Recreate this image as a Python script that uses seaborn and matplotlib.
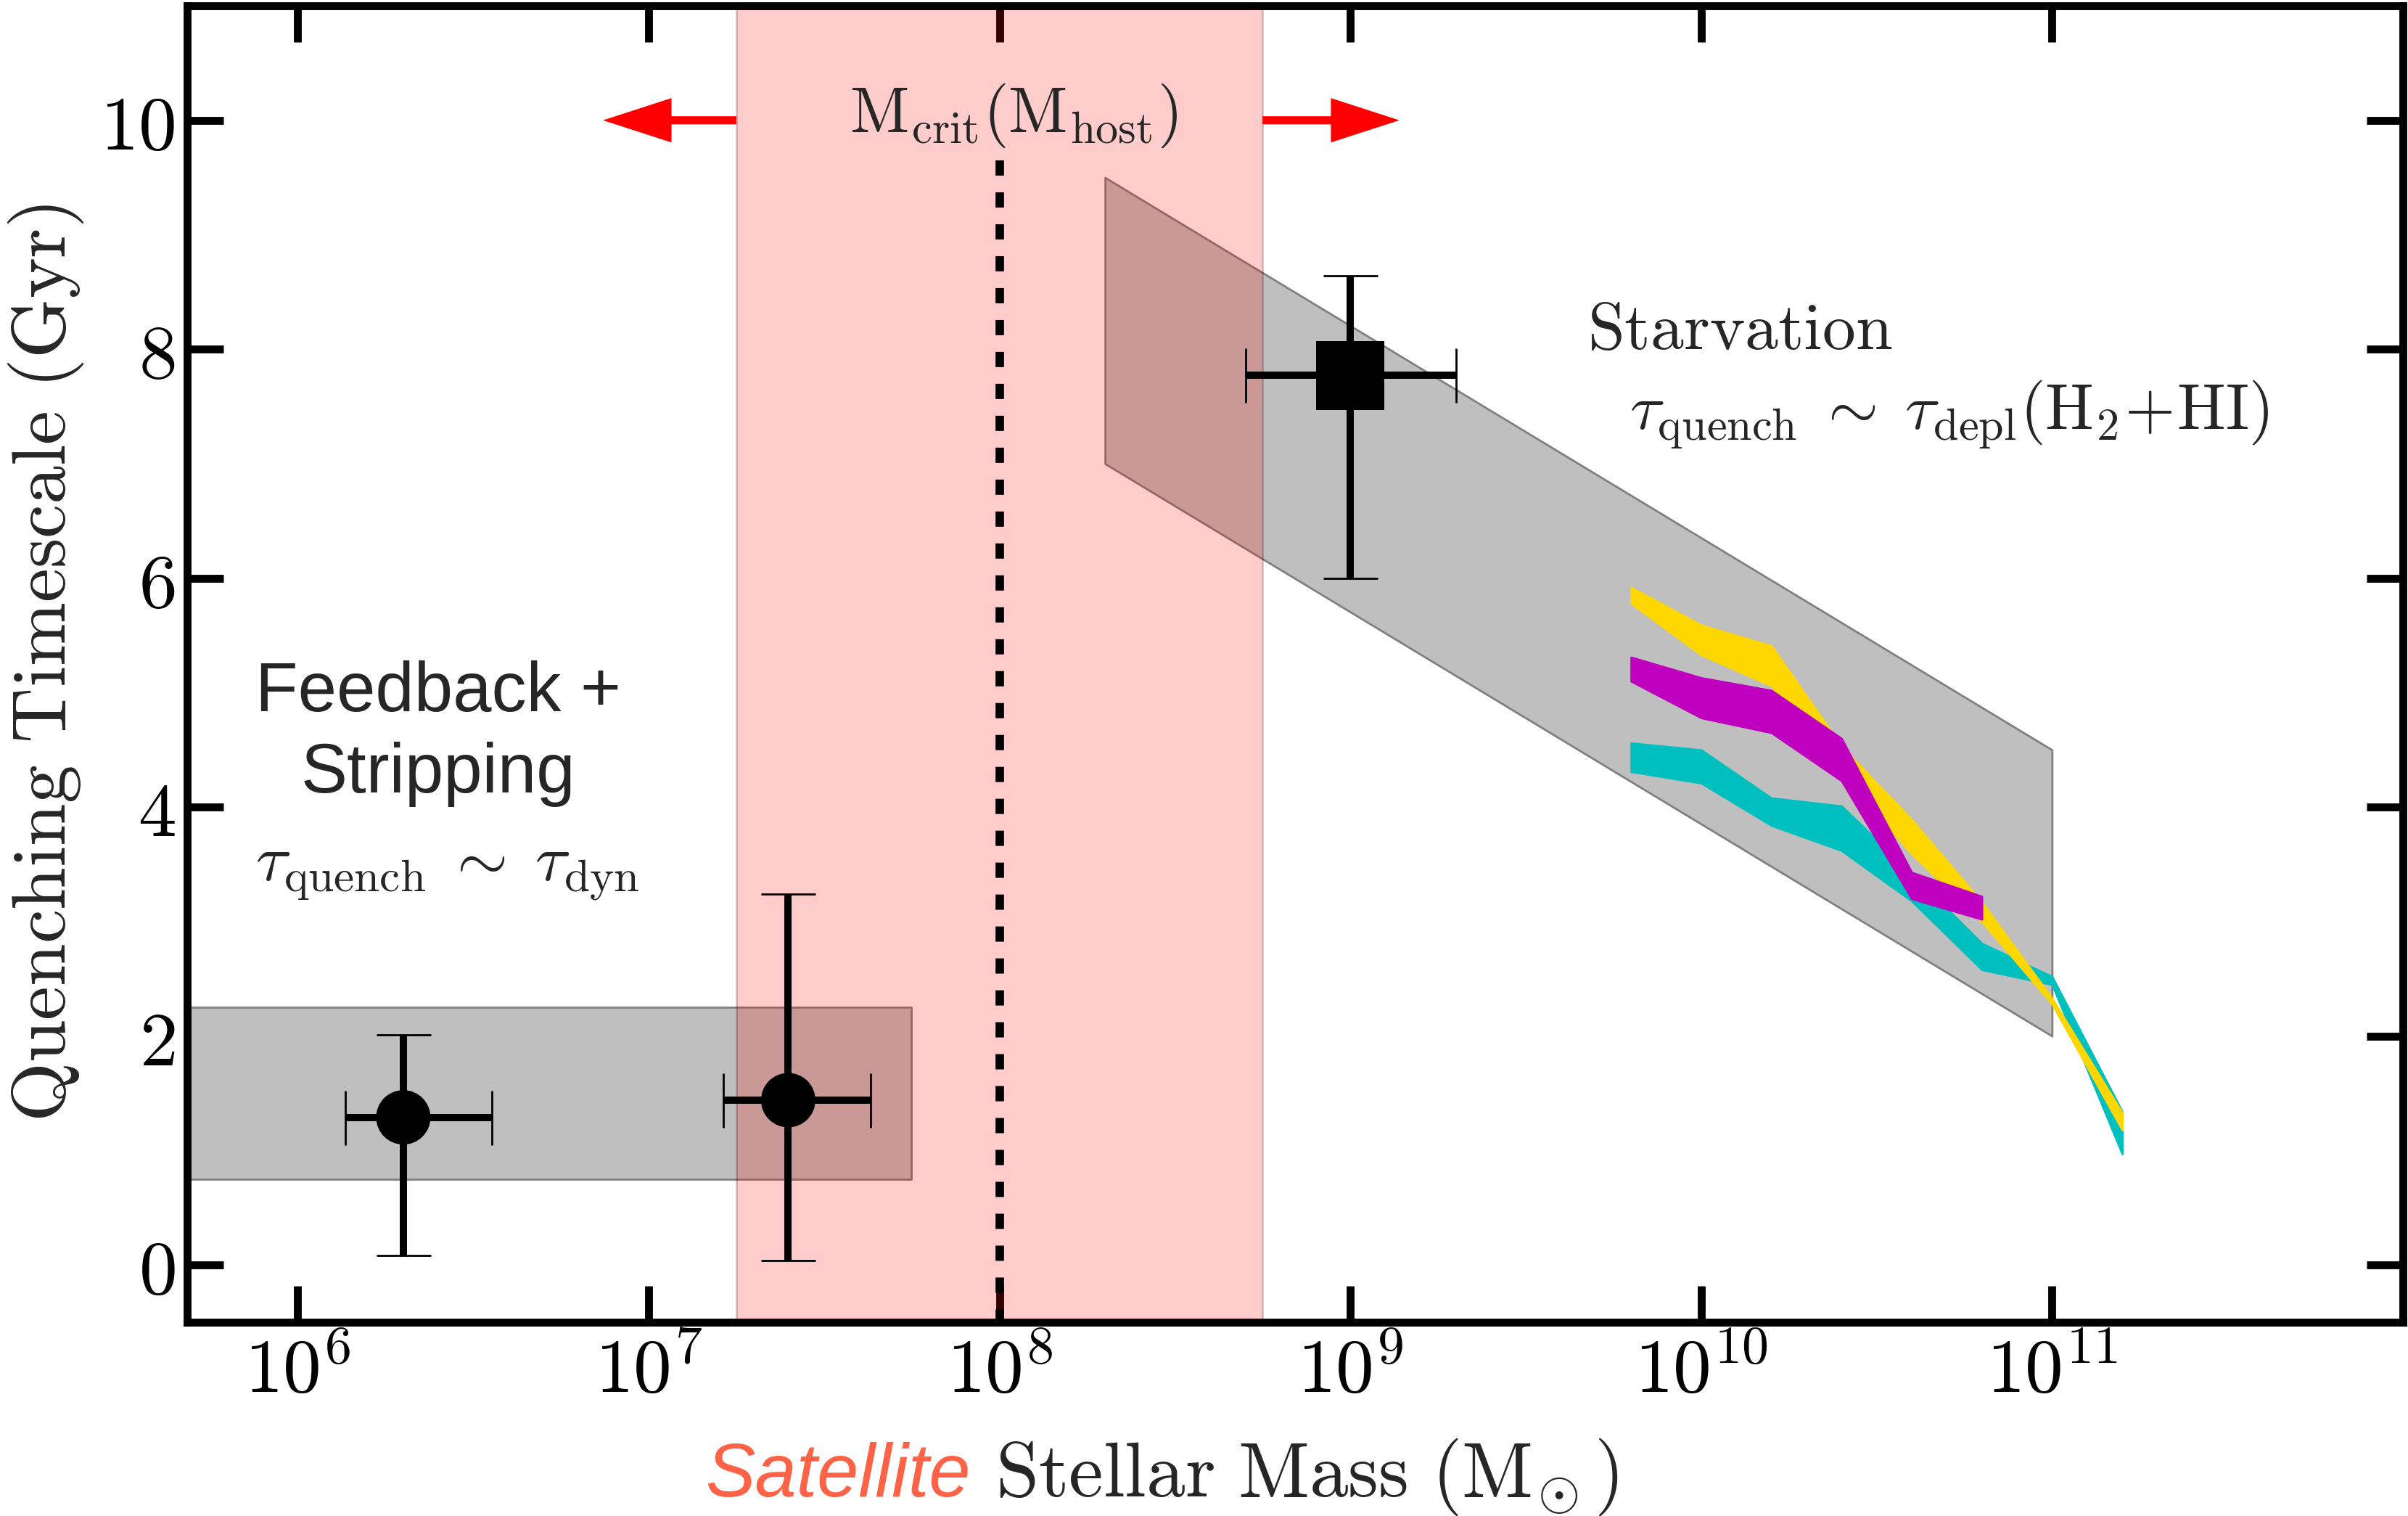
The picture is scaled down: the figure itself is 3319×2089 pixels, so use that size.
import numpy as np
import pandas as pd
import matplotlib
matplotlib.use("Agg")
import matplotlib.pyplot as plt
import seaborn as sns
from matplotlib.ticker import FixedLocator, FixedFormatter, NullLocator

# ---------------- data ----------------
# quenching-timescale bands (log10 stellar mass, lower / upper edge in Gyr)
band_logmass = [9.8, 10.0, 10.2, 10.4, 10.6, 10.8, 11.0, 11.2]
gold_lo = [5.78, 5.33, 5.06, 4.30, 3.59, 3.00, 2.28, 1.18]
gold_hi = [5.92, 5.59, 5.41, 4.53, 3.89, 3.17, 2.33, 1.33]
cyan_lo = [4.31, 4.21, 3.84, 3.62, 3.18, 2.58, 2.45, 0.97]
cyan_hi = [4.56, 4.50, 4.08, 4.01, 3.42, 2.81, 2.52, 1.34]
magenta_logmass = [9.8, 10.0, 10.2, 10.4, 10.6, 10.8]
magenta_lo = [5.10, 4.78, 4.65, 4.23, 3.20, 3.02]
magenta_hi = [5.31, 5.13, 5.02, 4.60, 3.43, 3.22]

# shaded regimes
feedback_x = [1e5, 5.6e7]
feedback_lo = [0.75, 0.75]
feedback_hi = [2.25, 2.25]
starv_x = [2e8, 1e11]
starv_lo = [7.0, 2.0]
starv_hi = [9.5, 4.5]

# critical-mass band and line
mcrit_lo, mcrit_hi = 10**7.25, 10**8.75
mcrit = 1e8
mcrit_line_y = [9.65, -0.5]
arrow_y = 10.0
arrow_left_tip = 10**6.87
arrow_right_tip = 10**9.14

# data points with error bars
point_kind = ["circle", "circle", "square"]
point_mass = [2.0e6, 2.5e7, 1.0e9]
point_tq = [1.29, 1.44, 7.77]
point_mass_lo = [1.365e6, 1.63e7, 5.04e8]
point_mass_hi = [3.58e6, 4.30e7, 2.0e9]
point_tq_lo = [0.085, 0.04, 6.0]
point_tq_hi = [2.01, 3.24, 8.64]

# ticks
xtick_vals = [1e6, 1e7, 1e8, 1e9, 1e10, 1e11]
xtick_labels = [r"$10^{6}$", r"$10^{7}$", r"$10^{8}$", r"$10^{9}$", r"$10^{10}$", r"$10^{11}$"]
ytick_vals = [0, 2, 4, 6, 8, 10]
ytick_labels = [r"$0$", r"$2$", r"$4$", r"$6$", r"$8$", r"$10$"]

# ---------------- style ----------------
sns.set_style("ticks")
plt.rcParams["mathtext.fontset"] = "cm"
plt.rcParams["font.family"] = ["DejaVu Sans"]

W, H, DPI = 3319, 2089, 200
fig = plt.figure(figsize=(W / DPI, H / DPI), dpi=DPI)
ax = fig.add_axes([258 / W, 1 - 1822 / H, (3312 - 258) / W, (1822 - 8) / H])
ax.set_xscale("log")
ax.set_xlim(10**5.685, 1e12)
ax.set_ylim(-0.5, 11)

# gray regime boxes
ax.fill_between(feedback_x, feedback_lo, feedback_hi, facecolor="0.75",
                edgecolor="0.5", lw=1.0, zorder=1)
ax.fill_between(starv_x, starv_lo, starv_hi, facecolor="0.75",
                edgecolor="0.5", lw=1.0, zorder=1)

# pink critical mass band
ax.axvspan(mcrit_lo, mcrit_hi, facecolor="red", edgecolor="black",
           alpha=0.2, lw=1.0, zorder=2)

# coloured bands
bx = 10**np.array(band_logmass)
mx = 10**np.array(magenta_logmass)
ax.fill_between(bx, cyan_lo, cyan_hi, facecolor="c", edgecolor="c", lw=1, zorder=3)
ax.fill_between(bx, gold_lo, gold_hi, facecolor="gold", edgecolor="gold", lw=1, zorder=4)
ax.fill_between(mx, magenta_lo, magenta_hi, facecolor="m", edgecolor="m", lw=1, zorder=5)

# dashed critical line
ax.plot([mcrit, mcrit], mcrit_line_y, color="k", lw=4.2, dashes=(1.8, 1.97), zorder=3)

# arrows
arrow_style = "simple,head_length=3.4,head_width=2.2,tail_width=0.4"
for tail, tip in [(mcrit_lo, arrow_left_tip), (mcrit_hi, arrow_right_tip)]:
    ax.annotate("", xy=(tip, arrow_y), xytext=(tail, arrow_y),
                arrowprops=dict(arrowstyle=arrow_style, mutation_scale=10,
                                fc="red", ec="none", shrinkA=0, shrinkB=0),
                zorder=6)

# error bars + markers
pm = np.array(point_mass)
pt = np.array(point_tq)
xerr = [pm - np.array(point_mass_lo), np.array(point_mass_hi) - pm]
yerr = [pt - np.array(point_tq_lo), np.array(point_tq_hi) - pt]
ax.errorbar(pm, pt, xerr=xerr, yerr=yerr, fmt="none", ecolor="k",
            elinewidth=3.6, capsize=13.5, capthick=1.0, zorder=6)
pts = pd.DataFrame({"mass": point_mass, "tq": point_tq, "kind": point_kind})
sns.scatterplot(data=pts, x="mass", y="tq", style="kind", size="kind",
                markers={"circle": "o", "square": "s"},
                sizes={"circle": 27**2, "square": 34**2},
                color="k", edgecolor="k", linewidth=0, legend=False,
                ax=ax, zorder=7)
ax.set_xlabel("")
ax.set_ylabel("")

# annotations
ax.text(10**8.04, 9.9, r"$\mathrm{M}_{\rm crit}(\mathrm{M}_{\rm host})$",
        fontsize=32, ha="center", va="baseline", zorder=8)
ax.text(10**10.11, 8.0, r"$\mathrm{Starvation}$", fontsize=33,
        ha="center", va="baseline", zorder=8)
ax.text(10**10.706, 7.3,
        r"$\tau_{\rm quench}\;\sim\;\tau_{\rm depl}(\mathrm{H}_2\!+\!\mathrm{HI})$",
        fontsize=32, ha="center", va="baseline", zorder=8)
ax.text(10**6.4, 4.84, "Feedback +", fontsize=34.5, family="Liberation Sans",
        ha="center", va="baseline", zorder=8)
ax.text(10**6.4, 4.13, "Stripping", fontsize=34.5, family="Liberation Sans",
        ha="center", va="baseline", zorder=8)
ax.text(10**6.427, 3.36, r"$\tau_{\rm quench}\;\sim\;\tau_{\rm dyn}$",
        fontsize=32.5, ha="center", va="baseline", zorder=8)

# ticks / spines
ax.xaxis.set_major_locator(FixedLocator(xtick_vals))
ax.xaxis.set_major_formatter(FixedFormatter(xtick_labels))
ax.xaxis.set_minor_locator(NullLocator())
ax.yaxis.set_major_locator(FixedLocator(ytick_vals))
ax.yaxis.set_major_formatter(FixedFormatter(ytick_labels))
ax.yaxis.set_minor_locator(NullLocator())
ax.tick_params(axis="both", which="major", direction="in", length=18,
               width=3.9, top=True, right=True, labelsize=38, colors="k")
ax.tick_params(axis="x", pad=6)
ax.tick_params(axis="y", pad=6)
for s in ax.spines.values():
    s.set_linewidth(3.9)
    s.set_color("k")
    s.set_zorder(10)

# axis labels
fig.text(64 / W, 0.5625, r"$\mathrm{Quenching\ Timescale\ (Gyr)}$",
         rotation=90, ha="center", va="center", fontsize=38)
fig.text(972 / W, 1 - 2062 / H, "Satellite", color="tomato",
         fontstyle="italic", family="Liberation Sans", fontsize=37, va="baseline")
fig.text(1372 / W, 1 - 2062 / H, r"$\mathrm{Stellar\ Mass\ (M}_{\!\odot}\mathrm{)}$",
         fontsize=38.5, va="baseline")

fig.savefig("out.png", dpi=DPI)
